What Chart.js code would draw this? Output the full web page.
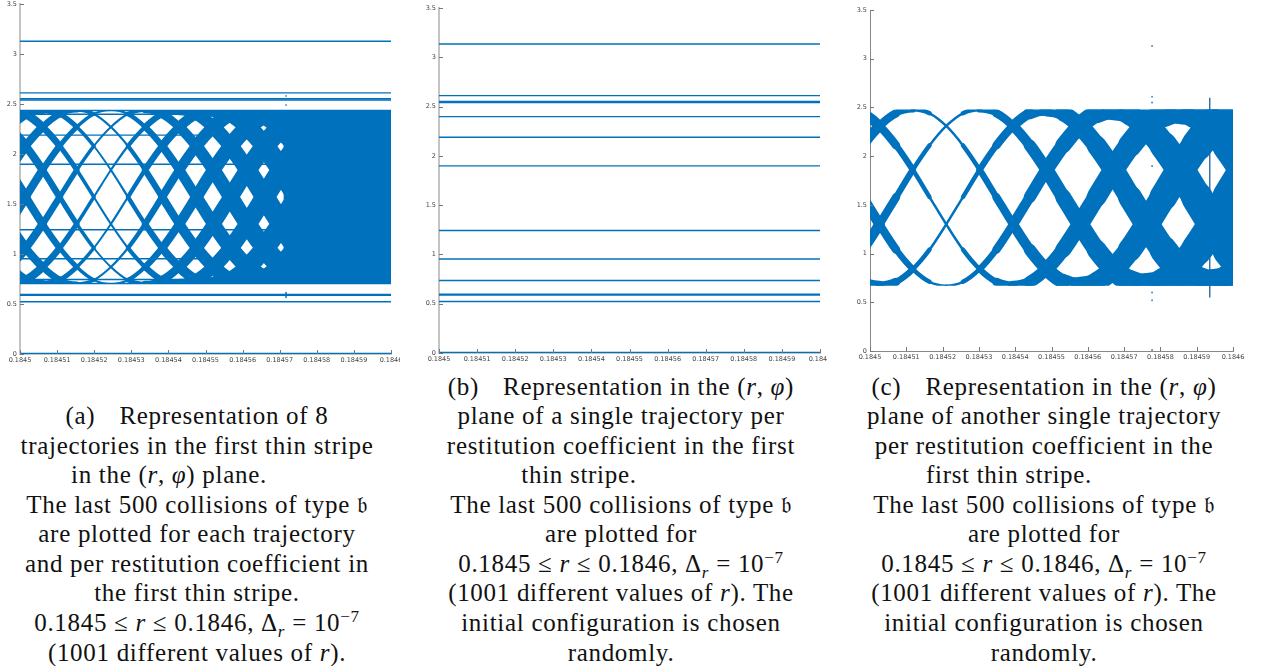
<!DOCTYPE html>
<html>
<head>
<meta charset="utf-8">
<script src="https://cdn.jsdelivr.net/npm/chart.js@4.4.1/dist/chart.umd.min.js"></script>
<style>
  body { margin: 0; background: #fff; width: 1264px; height: 666px; overflow: hidden; position: relative; }
  canvas { position: absolute; top: 0; }
  .cap { position: absolute; width: 600px; text-align: center; white-space: nowrap;
         font-family: "Liberation Serif", "DejaVu Serif", serif; font-size: 25px; line-height: 30px;
         letter-spacing: 0.7px; color: #111; }
  .cap sub, .cap sup { font-size: 0.68em; line-height: 0; }
  .gap { display: inline-block; width: 24px; }
  .frak { font-size: 0.9em; }
</style>
</head>
<body>
<canvas id="chartA" width="400" height="370" style="left:0px"></canvas>
<canvas id="chartB" width="407" height="370" style="left:420px"></canvas>
<canvas id="chartC" width="424" height="370" style="left:840px"></canvas>

<!-- (a) caption -->
<div class="cap" style="left:-103px; top:401px">(a)<span class="gap"></span>Representation of 8</div>
<div class="cap" style="left:-103px; top:431px">trajectories in the first thin stripe</div>
<div class="cap" style="left:-131px; top:460px">in the (<i>r</i>, <i>φ</i>) plane.</div>
<div class="cap" style="left:-103px; top:490px">The last 500 collisions of type <span class="frak">𝔟</span></div>
<div class="cap" style="left:-103px; top:519px">are plotted for each trajectory</div>
<div class="cap" style="left:-103px; top:549px">and per restitution coefficient in</div>
<div class="cap" style="left:-103px; top:578px">the first thin stripe.</div>
<div class="cap" style="left:-103px; top:608px">0.1845 ≤ <i>r</i> ≤ 0.1846, Δ<sub><i>r</i></sub> = 10<sup>−7</sup></div>
<div class="cap" style="left:-103px; top:638px">(1001 different values of <i>r</i>).</div>

<!-- (b) caption -->
<div class="cap" style="left:321px; top:372px">(b)<span class="gap"></span>Representation in the (<i>r</i>, <i>φ</i>)</div>
<div class="cap" style="left:321px; top:401px">plane of a single trajectory per</div>
<div class="cap" style="left:321px; top:431px">restitution coefficient in the first</div>
<div class="cap" style="left:279px; top:460px">thin stripe.</div>
<div class="cap" style="left:321px; top:490px">The last 500 collisions of type <span class="frak">𝔟</span></div>
<div class="cap" style="left:321px; top:519px">are plotted for</div>
<div class="cap" style="left:321px; top:549px">0.1845 ≤ <i>r</i> ≤ 0.1846, Δ<sub><i>r</i></sub> = 10<sup>−7</sup></div>
<div class="cap" style="left:321px; top:578px">(1001 different values of <i>r</i>). The</div>
<div class="cap" style="left:321px; top:608px">initial configuration is chosen</div>
<div class="cap" style="left:321px; top:638px">randomly.</div>

<!-- (c) caption -->
<div class="cap" style="left:744px; top:372px">(c)<span class="gap"></span>Representation in the (<i>r</i>, <i>φ</i>)</div>
<div class="cap" style="left:744px; top:401px">plane of another single trajectory</div>
<div class="cap" style="left:744px; top:431px">per restitution coefficient in the</div>
<div class="cap" style="left:709px; top:460px">first thin stripe.</div>
<div class="cap" style="left:744px; top:490px">The last 500 collisions of type <span class="frak">𝔟</span></div>
<div class="cap" style="left:744px; top:519px">are plotted for</div>
<div class="cap" style="left:744px; top:549px">0.1845 ≤ <i>r</i> ≤ 0.1846, Δ<sub><i>r</i></sub> = 10<sup>−7</sup></div>
<div class="cap" style="left:744px; top:578px">(1001 different values of <i>r</i>). The</div>
<div class="cap" style="left:744px; top:608px">initial configuration is chosen</div>
<div class="cap" style="left:744px; top:638px">randomly.</div>

<script>
// Axis ticks (same for the three panels)
const xTickVals = [0.1845, 0.18451, 0.18452, 0.18453, 0.18454, 0.18455, 0.18456, 0.18457, 0.18458, 0.18459, 0.1846];
const xTickLabels = ['0.1845', '0.18451', '0.18452', '0.18453', '0.18454', '0.18455', '0.18456', '0.18457', '0.18458', '0.18459', '0.1846'];
const yTickVals = [0, 0.5, 1, 1.5, 2, 2.5, 3, 3.5];
const yTickLabels = ['0', '0.5', '1', '1.5', '2', '2.5', '3', '3.5'];

// Panel (a): fixed-point trajectories (horizontal lines) and the lens bands
const linesA = [3.127, 2.611, 2.552, 2.540, 2.435, 2.398, 2.189, 1.898, 1.243, 0.953, 0.745, 0.705, 0.596, 0.588, 0.523, 0.006];
const rGridA = [0.1844969, 0.1845015, 0.1845061, 0.1845107, 0.1845153, 0.1845199, 0.1845245, 0.1845291,
                0.1845337, 0.1845383, 0.1845429, 0.1845475, 0.1845521, 0.1845567, 0.1845613, 0.1845659,
                0.1845705, 0.1845751, 0.1845797, 0.1845843, 0.1845889, 0.1845935, 0.1845981, 0.1846027];
const phiA0 = [2.44, 2.40, 2.27, 2.08, 1.84, 1.57, 1.30, 1.06, 0.87, 0.74, 0.70, 0.74, 0.87, 1.06, 1.30, 1.57, 1.84, 2.08, 2.27, 2.40, 2.44, 2.40, 2.27, 2.08];
const phiA1 = [2.27, 2.40, 2.44, 2.40, 2.27, 2.08, 1.84, 1.57, 1.30, 1.06, 0.87, 0.74, 0.70, 0.74, 0.87, 1.06, 1.30, 1.57, 1.84, 2.08, 2.27, 2.40, 2.44, 2.40];
const phiA2 = [1.84, 2.08, 2.27, 2.40, 2.44, 2.40, 2.27, 2.08, 1.84, 1.57, 1.30, 1.06, 0.87, 0.74, 0.70, 0.74, 0.87, 1.06, 1.30, 1.57, 1.84, 2.08, 2.27, 2.40];
const phiA3 = [1.30, 1.57, 1.84, 2.08, 2.27, 2.40, 2.44, 2.40, 2.27, 2.08, 1.84, 1.57, 1.30, 1.06, 0.87, 0.74, 0.70, 0.74, 0.87, 1.06, 1.30, 1.57, 1.84, 2.08];
const phiA4 = [0.87, 1.06, 1.30, 1.57, 1.84, 2.08, 2.27, 2.40, 2.44, 2.40, 2.27, 2.08, 1.84, 1.57, 1.30, 1.06, 0.87, 0.74, 0.70, 0.74, 0.87, 1.06, 1.30, 1.57];
const phiA5 = [0.70, 0.74, 0.87, 1.06, 1.30, 1.57, 1.84, 2.08, 2.27, 2.40, 2.44, 2.40, 2.27, 2.08, 1.84, 1.57, 1.30, 1.06, 0.87, 0.74, 0.70, 0.74, 0.87, 1.06];
const phiA6 = [0.87, 0.74, 0.70, 0.74, 0.87, 1.06, 1.30, 1.57, 1.84, 2.08, 2.27, 2.40, 2.44, 2.40, 2.27, 2.08, 1.84, 1.57, 1.30, 1.06, 0.87, 0.74, 0.70, 0.74];
const phiA7 = [1.30, 1.06, 0.87, 0.74, 0.70, 0.74, 0.87, 1.06, 1.30, 1.57, 1.84, 2.08, 2.27, 2.40, 2.44, 2.40, 2.27, 2.08, 1.84, 1.57, 1.30, 1.06, 0.87, 0.74];
const phiA8 = [1.84, 1.57, 1.30, 1.06, 0.87, 0.74, 0.70, 0.74, 0.87, 1.06, 1.30, 1.57, 1.84, 2.08, 2.27, 2.40, 2.44, 2.40, 2.27, 2.08, 1.84, 1.57, 1.30, 1.06];
const phiA9 = [2.27, 2.08, 1.84, 1.57, 1.30, 1.06, 0.87, 0.74, 0.70, 0.74, 0.87, 1.06, 1.30, 1.57, 1.84, 2.08, 2.27, 2.40, 2.44, 2.40, 2.27, 2.08, 1.84, 1.57];
const bandA = [0.70, 2.44];
const solidFromA = 0.184571;        // beyond this r the band is fully covered
const markRA = 0.1845717;           // isolated marks near r = 0.18457
const markDotsA = [2.58, 2.49];
const markSegA = [0.56, 0.62];

// Panel (b): one trajectory, every collision lands on a fixed value of phi
const linesB = [3.135, 2.611, 2.552, 2.540, 2.398, 2.189, 1.898, 1.243, 0.953, 0.736, 0.596, 0.588, 0.523, 0.006];

// Panel (c): another trajectory, five lens bands
const rGridC = [0.1844934, 0.1844980, 0.1845026, 0.1845072, 0.1845118, 0.1845164, 0.1845210, 0.1845256,
                0.1845302, 0.1845348, 0.1845394, 0.1845440, 0.1845486, 0.1845532, 0.1845578, 0.1845624,
                0.1845670, 0.1845716, 0.1845762, 0.1845808, 0.1845854, 0.1845900, 0.1845946, 0.1845992, 0.1846038];
const phiC0 = [2.48, 2.44, 2.31, 2.11, 1.86, 1.58, 1.30, 1.04, 0.84, 0.71, 0.67, 0.71, 0.84, 1.04, 1.30, 1.58, 1.86, 2.11, 2.31, 2.44, 2.48, 2.44, 2.31, 2.11, 1.86];
const phiC1 = [1.86, 2.11, 2.31, 2.44, 2.48, 2.44, 2.31, 2.11, 1.86, 1.58, 1.30, 1.04, 0.84, 0.71, 0.67, 0.71, 0.84, 1.04, 1.30, 1.58, 1.86, 2.11, 2.31, 2.44, 2.48];
const phiC2 = [0.84, 1.04, 1.30, 1.58, 1.86, 2.11, 2.31, 2.44, 2.48, 2.44, 2.31, 2.11, 1.86, 1.58, 1.30, 1.04, 0.84, 0.71, 0.67, 0.71, 0.84, 1.04, 1.30, 1.58, 1.86];
const phiC3 = [0.84, 0.71, 0.67, 0.71, 0.84, 1.04, 1.30, 1.58, 1.86, 2.11, 2.31, 2.44, 2.48, 2.44, 2.31, 2.11, 1.86, 1.58, 1.30, 1.04, 0.84, 0.71, 0.67, 0.71, 0.84];
const phiC4 = [1.86, 1.58, 1.30, 1.04, 0.84, 0.71, 0.67, 0.71, 0.84, 1.04, 1.30, 1.58, 1.86, 2.11, 2.31, 2.44, 2.48, 2.44, 2.31, 2.11, 1.86, 1.58, 1.30, 1.04, 0.84];
const bandC = [0.67, 2.48];
const dotsRC = 0.1845777;
const dotsC = [3.13, 2.61, 2.55, 1.90, 0.60, 0.52, 0.01];
const vlineRC = 0.1845936;
const vlineC = [0.55, 2.60];

const blue = '#0072BD';
const rMin = 0.1845, rMax = 0.1846, rStep = 0.00001;

// band thickness (px) grows away from the r where the bands are thinnest
function widthA(u) { return Math.min(24, 1.2 + (u < 2.45 ? 3.4 : 4.4) * Math.abs(u - 2.45)); }
function widthC(u) { return Math.min(40, 1.5 + 4.2 * Math.abs(u - 2.1)); }

function hLine(y, w) {
  return { data: [{ x: rMin, y: y }, { x: rMax, y: y }], showLine: true, pointRadius: 0,
           borderColor: blue, borderWidth: w || 1.4 };
}

function strand(rGrid, phi, band, widthFn) {
  return {
    data: rGrid.map((x, i) => ({ x: x, y: phi[i] })),
    showLine: true, pointRadius: 0, borderColor: blue, borderWidth: 2,
    cubicInterpolationMode: 'monotone', borderCapStyle: 'round', borderJoinStyle: 'round',
    clipBand: band,
    segment: {
      borderColor: blue,
      borderCapStyle: 'round',
      borderWidth: ctx => widthFn(((rGrid[ctx.p0DataIndex] + rGrid[ctx.p1DataIndex]) / 2 - rMin) / rStep)
    }
  };
}

// keep the lens bands inside their phi range
const bandClip = {
  id: 'bandClip',
  beforeDatasetDraw(chart, args) {
    const ds = chart.data.datasets[args.index];
    if (!ds.clipBand) return;
    const y = chart.scales.y, a = chart.chartArea, ctx = chart.ctx;
    const top = y.getPixelForValue(ds.clipBand[1]);
    const bot = y.getPixelForValue(ds.clipBand[0]);
    ctx.save();
    ctx.beginPath();
    ctx.rect(a.left, top, a.right - a.left, bot - top);
    ctx.clip();
  },
  afterDatasetDraw(chart, args) {
    if (chart.data.datasets[args.index].clipBand) chart.ctx.restore();
  }
};

// Matlab style ticks pointing into the plot
const inTicks = {
  id: 'inTicks',
  afterDraw(chart) {
    const { ctx, chartArea: a, scales: { x, y } } = chart;
    ctx.save();
    ctx.strokeStyle = '#777';
    ctx.lineWidth = 1;
    ctx.beginPath();
    xTickVals.forEach(v => {
      const p = Math.round(x.getPixelForValue(v)) + 0.5;
      ctx.moveTo(p, a.bottom); ctx.lineTo(p, a.bottom - 4);
    });
    yTickVals.forEach(v => {
      const p = Math.round(y.getPixelForValue(v)) + 0.5;
      ctx.moveTo(a.left, p); ctx.lineTo(a.left + 4, p);
    });
    ctx.stroke();
    ctx.restore();
  }
};

function makeChart(id, datasets, box) {
  const tickFont = { family: 'DejaVu Sans', size: 6.5 };
  return new Chart(document.getElementById(id), {
    type: 'scatter',
    data: { datasets: datasets },
    options: {
      responsive: false, animation: false, devicePixelRatio: 1, events: [],
      layout: { padding: { top: box.top, right: box.right, left: 0, bottom: 0 } },
      plugins: { legend: { display: false }, tooltip: { enabled: false } },
      scales: {
        x: {
          type: 'linear', min: rMin, max: rMax,
          afterBuildTicks: s => { s.ticks = xTickVals.map(v => ({ value: v })); },
          afterFit: s => { s.height = box.xh; s.paddingLeft = 0; s.paddingRight = 0; },
          ticks: { callback: (v, i) => xTickLabels[i], font: tickFont, color: '#444', padding: 2,
                   maxRotation: 0, autoSkip: false },
          grid: { drawOnChartArea: false, drawTicks: false },
          border: { color: box.spine, width: box.spineW }
        },
        y: {
          min: 0, max: 3.5,
          afterBuildTicks: s => { s.ticks = yTickVals.map(v => ({ value: v })); },
          afterFit: s => { s.width = box.yw; s.paddingTop = 0; s.paddingBottom = 0; },
          ticks: { callback: (v, i) => yTickLabels[i], font: tickFont, color: '#444', padding: 3 },
          grid: { drawOnChartArea: false, drawTicks: false },
          border: { color: box.spine, width: box.spineW }
        }
      }
    },
    plugins: [bandClip, inTicks]
  });
}

// (a)
const setsA = [];
linesA.forEach(v => setsA.push(hLine(v)));
[phiA0, phiA1, phiA2, phiA3, phiA4, phiA5, phiA6, phiA7, phiA8, phiA9]
  .forEach(p => setsA.push(strand(rGridA, p, bandA, widthA)));
setsA.push({ data: [{ x: solidFromA, y: bandA[1] }, { x: rMax, y: bandA[1] }], showLine: true, pointRadius: 0,
             borderWidth: 0, borderColor: blue, backgroundColor: blue, fill: { value: bandA[0] } });
setsA.push({ data: markDotsA.map(y => ({ x: markRA, y: y })), pointRadius: 1, pointBorderWidth: 0,
             pointBackgroundColor: '#5a9bd0' });
setsA.push({ data: markSegA.map(y => ({ x: markRA, y: y })), showLine: true, pointRadius: 0,
             borderColor: blue, borderWidth: 1.5 });
makeChart('chartA', setsA, { top: 4, right: 9, yw: 20, xh: 16, spine: '#c4c4c4', spineW: 2 });

// (b)
makeChart('chartB', linesB.map(v => hLine(v)), { top: 8, right: 7, yw: 19, xh: 17, spine: '#c4c4c4', spineW: 2 });

// (c)
const setsC = [];
[phiC0, phiC1, phiC2, phiC3, phiC4].forEach(p => setsC.push(strand(rGridC, p, bandC, widthC)));
setsC.push({ data: dotsC.map(y => ({ x: dotsRC, y: y })), pointRadius: 1, pointBorderWidth: 0,
             pointBackgroundColor: '#4a90cc' });
setsC.push({ data: vlineC.map(y => ({ x: vlineRC, y: y })), showLine: true, pointRadius: 0,
             borderColor: '#1d5e9c', borderWidth: 1.3 });
makeChart('chartC', setsC, { top: 10, right: 31, yw: 30, xh: 19, spine: '#888', spineW: 1 });
</script>
</body>
</html>
